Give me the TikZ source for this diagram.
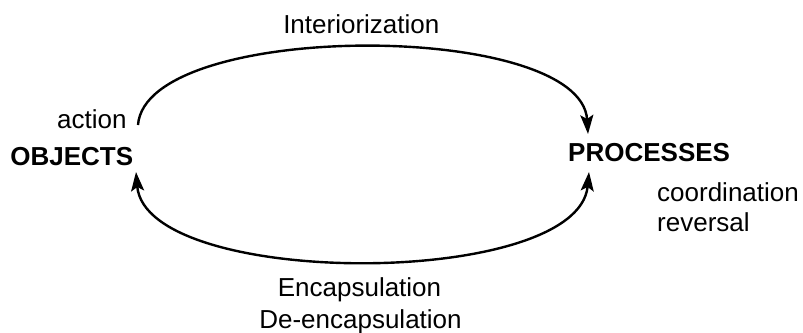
\documentclass[tikz,border=0pt]{standalone}
\usepackage{fontspec}
\setmainfont{Liberation Sans}
\usetikzlibrary{arrows.meta}
\begin{document}
\begin{tikzpicture}[x=1pt,y=-1pt,
  lbl/.style={inner sep=0pt,font=\fontsize{26}{30}\selectfont},
  big/.style={inner sep=0pt,font=\fontsize{26}{30}\selectfont\bfseries},
  conn/.style={line width=2.4pt,-{Stealth[length=19pt,width=13pt,inset=4pt]}},
  conn2/.style={line width=2.4pt,{Stealth[length=19pt,width=13pt,inset=4pt]}-{Stealth[length=19pt,width=13pt,inset=4pt]}}]
\useasboundingbox (0,0) rectangle (803,332);
\node[big,anchor=base east] (obj) at (133.3,165) {OBJECTS};
\node[big,anchor=base west] (proc) at (568,161.7) {PROCESSES};
\node[lbl,anchor=base east] (action) at (126.7,128.3) {action};
\node[lbl,anchor=base west] (coord) at (657,201.7) {coordination};
\node[lbl,anchor=base west] (rev) at (657,231.7) {reversal};
\node[lbl,anchor=base] (inter) at (361.3,33.3) {Interiorization};
\node[lbl,anchor=base] (enc) at (359.5,296.7) {Encapsulation};
\node[lbl,anchor=base] (denc) at (360.5,328) {De-encapsulation};
\coordinate (oa) at (138,125);
\coordinate (pa) at (588,134);
\coordinate (pb) at (589,172);
\coordinate (ob) at (136,172);
\draw[conn] (oa) .. controls (146,20) and (581,20) .. (pa);
\draw[conn2] (pb) .. controls (578,289) and (146,289) .. (ob);
\end{tikzpicture}
\end{document}
